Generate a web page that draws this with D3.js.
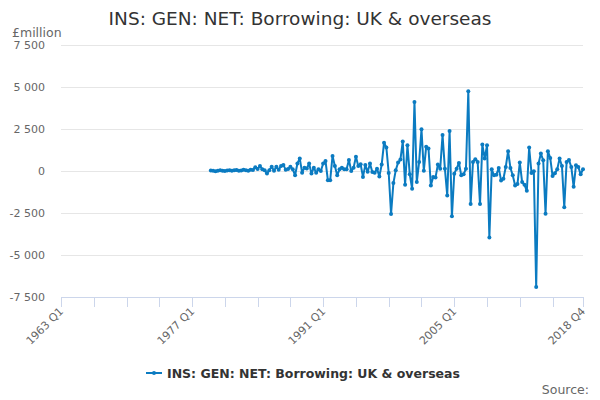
<!DOCTYPE html>
<html>
<head>
<meta charset="utf-8">
<script src="https://cdn.jsdelivr.net/npm/d3@7"></script>
<style>
  body { margin: 0; background: #fff; }
  text { font-family: "DejaVu Sans", Verdana, sans-serif; }
</style>
</head>
<body>
<script>
// Quarterly categories 1963 Q1 .. 2018 Q4
const firstYear = 1963, lastYear = 2018;
const quarters = [];
for (let yr = firstYear; yr <= lastYear; yr++) {
  for (let q = 1; q <= 4; q++) quarters.push(yr + " Q" + q);
}

// Series starts in 1979 Q1 (£million)
const seriesStart = "1979 Q1";
const borrowing = [
  30, 20, -10, 10, 40, 20, 0, 30, 50, 10, 40, 60, 20, 30, 70, 40, 20, 80,
  60, 230, 120, 300, 100, 50, -150, 50, 250, 20, 250, 80, 300, 350, 80, 120,
  250, 100, -250, 450, 750, -100, 200, 150, 450, -150, 200, -100, 100, 0, 450, 600,
  -550, -550, 900, 300, -250, 100, 200, 100, 100, 650, 0, 200, 850, 300, 400, -350,
  350, -50,
  440, -60, -100, 140, -330, 380, 1680, 1400, -120, -2560, -720, 40, 500, 680,
  1760, -820, 1540, -200, -1060, 4100, -660, 540, 2480, 20, 1440, 1340, -860, -360,
  -380, 380, 140, 2140, 140, -1460, 2380, -2700, -160, 140, 480, -260, -200, 140,
  4740, -1960, 540, 700, 540, -1960, 1580, 740, 1540, -3960,
  100, -260, -220, 180, -560, -460, 240, 1180, 180, -260, -860, -780, 500, -660,
  -820, -1180, 1400, -120, -20, -6900, 440, 1040, 640, -2540, 1180, 780, -300, -140,
  100, 740, 300, -2160, 540, 660, 240, -940, 340, 240, -200, 100
];

const yTicks = [-7500, -5000, -2500, 0, 2500, 5000, 7500];
const xTickLabels = ["1963 Q1", "1977 Q1", "1991 Q1", "2005 Q1", "2018 Q4"];
const seriesName = "INS: GEN: NET: Borrowing: UK & overseas";
const unitLabel = "£million";

const W = 600, H = 400;
const plotLeft = 61, plotRight = 583, plotTop = 45, plotBottom = 297;
const blue = "#0b7bc1";

const svg = d3.select("body").append("svg")
  .attr("width", W).attr("height", H);

const x = d3.scaleLinear().domain([0, quarters.length - 1]).range([plotLeft, plotRight]);
const y = d3.scaleLinear().domain([-7500, 7500]).range([plotBottom, plotTop]);

const fmt = d3.formatLocale({ decimal: ".", thousands: " ", grouping: [3], currency: ["£", ""], minus: "-" }).format(",");

// gridlines
svg.append("g").selectAll("line")
  .data(yTicks.filter(d => d !== -7500))
  .enter().append("line")
  .attr("x1", plotLeft).attr("x2", plotRight)
  .attr("y1", d => Math.round(y(d)) + 0.5).attr("y2", d => Math.round(y(d)) + 0.5)
  .attr("stroke", "#e6e6e6").attr("stroke-width", 1);

// y labels
svg.append("g").selectAll("text")
  .data(yTicks)
  .enter().append("text")
  .attr("x", 45).attr("y", d => y(d) + 4)
  .attr("text-anchor", "end")
  .attr("fill", "#666").style("font-size", "11px")
  .text(d => fmt(d));

svg.append("text")
  .attr("x", 12).attr("y", 37)
  .attr("fill", "#666").style("font-size", "12.5px")
  .text(unitLabel);

// x axis
const startIdx = quarters.indexOf(seriesStart);
const tickIdx = d3.range(0, quarters.length, 14);
tickIdx.push(quarters.length - 1);

svg.append("line")
  .attr("x1", plotLeft).attr("x2", plotRight)
  .attr("y1", plotBottom + 0.5).attr("y2", plotBottom + 0.5)
  .attr("stroke", "#ccd6eb");

svg.append("g").selectAll("line")
  .data(tickIdx)
  .enter().append("line")
  .attr("x1", d => Math.round(x(d)) + 0.5).attr("x2", d => Math.round(x(d)) + 0.5)
  .attr("y1", plotBottom).attr("y2", plotBottom + 10)
  .attr("stroke", "#ccd6eb");

svg.append("g").selectAll("text")
  .data(xTickLabels)
  .enter().append("text")
  .attr("transform", d => "translate(" + (x(quarters.indexOf(d)) + 3) + "," + (plotBottom + 15) + ") rotate(-45)")
  .attr("text-anchor", "end")
  .attr("fill", "#666").style("font-size", "11px")
  .text(d => d);

// series
const points = borrowing.map((v, i) => ({ i: startIdx + i, v: v }));

const line = d3.line()
  .x(d => x(d.i))
  .y(d => y(d.v));

svg.append("path")
  .datum(points)
  .attr("fill", "none")
  .attr("stroke", blue)
  .attr("stroke-width", 2)
  .attr("stroke-linejoin", "round")
  .attr("d", line);

svg.append("g").selectAll("circle")
  .data(points)
  .enter().append("circle")
  .attr("cx", d => x(d.i)).attr("cy", d => y(d.v))
  .attr("r", 2)
  .attr("fill", blue);

// title
svg.append("text")
  .attr("x", 300).attr("y", 25)
  .attr("text-anchor", "middle")
  .attr("fill", "#333").style("font-size", "18.5px")
  .text(seriesName);

// legend
const lg = svg.append("g").attr("transform", "translate(146,373)");
lg.append("line").attr("x1", 0).attr("x2", 16).attr("y1", 0).attr("y2", 0)
  .attr("stroke", blue).attr("stroke-width", 2);
lg.append("circle").attr("cx", 8).attr("cy", 0).attr("r", 2).attr("fill", blue);
lg.append("text").attr("x", 21).attr("y", 5)
  .attr("fill", "#333").style("font-size", "12.5px").style("font-weight", "bold")
  .text(seriesName);

svg.append("text")
  .attr("x", 589).attr("y", 394)
  .attr("text-anchor", "end")
  .attr("fill", "#666").style("font-size", "12.5px")
  .text("Source:");
</script>
</body>
</html>
